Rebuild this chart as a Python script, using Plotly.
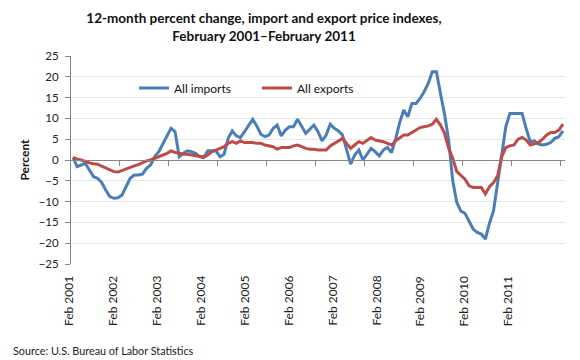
import plotly.graph_objects as go
import pandas as pd

# ---------------- data ----------------
months = pd.date_range("2001-02-01", periods=121, freq="MS").strftime("%b %Y").tolist()

imports = [
    0.6, -1.6, -1.2, -0.8, -2.4, -4.0, -4.4, -5.4, -7.2, -8.8, -9.2, -9.1,   # 2001
    -8.4, -6.2, -4.4, -3.6, -3.6, -3.4, -2.0, -1.2, 0.8, 2.0, 4.0, 5.6,      # 2002
    7.6, 6.8, 0.8, 1.6, 2.2, 2.0, 1.6, 0.8, 0.6, 2.2, 2.2, 2.2,              # 2003
    0.8, 1.4, 5.2, 7.0, 5.8, 5.4, 6.8, 8.2, 9.8, 8.2, 6.2, 5.6,              # 2004
    6.0, 7.6, 8.4, 5.8, 7.2, 8.0, 8.0, 9.8, 8.2, 6.4, 7.4, 8.4,              # 2005
    6.8, 4.6, 6.0, 8.6, 7.6, 7.0, 6.0, 2.8, -1.0, 1.2, 2.4, 0.0,             # 2006
    1.4, 2.8, 2.0, 1.0, 2.4, 3.0, 1.8, 5.0, 9.0, 12.0, 10.4, 13.6,           # 2007
    13.6, 14.8, 16.4, 18.4, 21.2, 21.2, 16.0, 11.0, 4.8, -5.0, -10.2, -12.3, # 2008
    -12.8, -14.6, -16.6, -17.4, -17.8, -19.0, -15.2, -12.2, -5.5, 2.2, 8.0, 11.2,  # 2009
    11.2, 11.2, 11.2, 7.5, 4.4, 4.6, 3.8, 3.6, 3.8, 4.2, 5.2, 5.6,           # 2010
    7.0,                                                                      # Feb 2011
]

exports = [
    0.6, 0.2, 0.0, -0.4, -0.7, -0.9, -1.0, -1.5, -2.0, -2.5, -2.8, -2.9,
    -2.5, -2.1, -1.8, -1.4, -1.1, -0.6, -0.2, 0.0, 0.4, 0.8, 1.1, 1.6,
    2.2, 1.8, 1.6, 1.4, 1.4, 1.2, 1.0, 0.8, 0.7, 1.2, 2.0, 2.4,
    2.8, 3.2, 4.0, 4.4, 4.0, 4.6, 4.2, 4.2, 4.2, 4.0, 4.0, 3.6,
    3.4, 3.2, 2.6, 3.0, 3.0, 3.0, 3.4, 3.6, 3.2, 2.8, 2.6, 2.6,
    2.4, 2.4, 2.4, 3.4, 4.0, 4.4, 5.2, 4.0, 2.8, 3.6, 4.4, 4.0,
    4.8, 5.4, 4.8, 4.6, 4.4, 4.0, 3.6, 4.6, 5.4, 6.0, 6.0, 6.6,
    7.0, 7.8, 8.0, 8.2, 8.6, 9.8, 8.4, 6.4, 2.8, 0.4, -2.8, -3.6,
    -4.6, -6.2, -6.6, -6.6, -6.6, -8.2, -6.4, -5.4, -3.8, 0.8, 3.0, 3.4,
    3.6, 5.0, 5.4, 4.8, 3.6, 3.9, 4.2, 5.0, 6.0, 6.6, 6.6, 7.2,
    8.6,
]

tick_labels = ["Feb 2001", "Feb 2002", "Feb 2003", "Feb 2004", "Feb 2005", "Feb 2006",
               "Feb 2007", "Feb 2008", "Feb 2009", "Feb 2010", "Feb 2011"]
y_ticks = [-25, -20, -15, -10, -5, 0, 5, 10, 15, 20, 25]

# ---------------- figure ----------------
FONT = "Lato"
x = list(range(len(months)))
n = len(months)

# the page adds an 8px body margin, so the figure is drawn 8px smaller
W, H = 572, 352
ML, MR, MT, MB = 63, 15, 48, 96
PW, PH = W - ML - MR, H - MT - MB

fig = go.Figure()
fig.add_trace(go.Scatter(x=x, y=imports, mode="lines", name="All imports",
                         customdata=months, hovertemplate="%{customdata}: %{y}%<extra></extra>",
                         line=dict(color="#4A7EBB", width=3)))
fig.add_trace(go.Scatter(x=x, y=exports, mode="lines", name="All exports",
                         customdata=months, hovertemplate="%{customdata}: %{y}%<extra></extra>",
                         line=dict(color="#BE4B48", width=3)))

# year boundary tick marks on the zero line (ticks between categories)
year_ticks = [i - 0.5 for i in range(12, n + 1, 12)]

fig.update_layout(
    width=W, height=H,
    margin=dict(l=ML, r=MR, t=MT, b=MB),
    paper_bgcolor="white", plot_bgcolor="white",
    font=dict(family=FONT, color="#222222"),
    title=dict(
        text="12-month percent change, import and export price indexes,<br>February 2001\u2013February 2011",
        font=dict(family=FONT, size=13.5, color="#111111", weight="bold"),
        x=256 / W, xref="container", xanchor="center",
        y=1 - 15 / H, yref="container", yanchor="top",
    ),
    xaxis=dict(
        range=[-0.5, n - 0.5], anchor="free", position=0.5,
        showline=True, linecolor="#868686", linewidth=1,
        ticks="outside", tickvals=year_ticks, ticklen=5, tickcolor="#868686",
        showticklabels=False, showgrid=False, zeroline=False,
    ),
    yaxis=dict(
        range=[-25, 25], tickvals=y_ticks,
        showgrid=True, gridcolor="#E6E6E6", gridwidth=1,
        showline=True, linecolor="#868686", linewidth=1,
        ticks="outside", ticklen=5, tickcolor="#868686",
        zeroline=False, tickfont=dict(family=FONT, size=11.5, color="#222222"),
        ticklabelstandoff=4,
        title=dict(text="Percent", font=dict(family=FONT, size=12, color="#111111", weight="bold"),
                   standoff=6),
        automargin=False,
    ),
    legend=dict(
        orientation="h", x=63 / PW, xanchor="left", y=1 - 32 / PH, yanchor="middle",
        bgcolor="rgba(0,0,0,0)", font=dict(family=FONT, size=12, color="#111111"),
        entrywidth=78, itemwidth=30,
    ),
    showlegend=True,
)

# category labels along the bottom (spaced as in the source chart)
label_start, label_step = -1.23, 10.76
for k, lab in enumerate(tick_labels):
    fig.add_annotation(
        text=lab, x=(label_start + label_step * k + 0.5) / n, xref="paper",
        y=-37 / PH, yref="paper",
        textangle=-90, showarrow=False, xanchor="center", yanchor="middle",
        font=dict(family=FONT, size=12, color="#222222"),
    )

fig.add_annotation(
    text="Source: U.S. Bureau of Labor Statistics", xref="paper", yref="paper",
    x=-60 / PW, y=-86 / PH, xanchor="left", yanchor="middle",
    showarrow=False, font=dict(family=FONT, size=10.8, color="#222222"),
)

fig.write_html("out.html")
